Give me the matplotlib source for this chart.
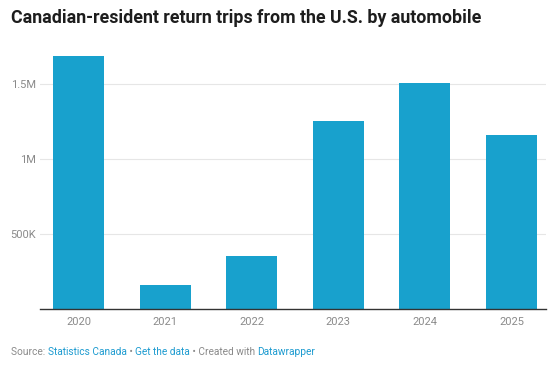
import matplotlib.pyplot as plt

years = ['2020', '2021', '2022', '2023', '2024', '2025']
trips = [1682000, 158000, 355000, 1255000, 1505000, 1160000]
yticks = [500000, 1000000, 1500000]
ytick_labels = ['500K', '1M', '1.5M']

BAR = '#18a1cd'
GRAY = '#8a8a8a'
LINK = '#1d9bd0'

plt.rcParams['font.family'] = ['Roboto', 'DejaVu Sans']

fig = plt.figure(figsize=(5.5, 3.72), dpi=100)
ax = fig.add_axes([0.0727, 0.169, 0.9203, 0.707])

x = range(len(years))
ax.bar(x, trips, width=0.59, color=BAR, zorder=2)
ax.set_xlim(-0.445, 5.4)
ax.set_ylim(0, 1750000)
ax.set_xticks(list(x))
ax.set_xticklabels(years)
ax.set_yticks(yticks)
ax.set_yticklabels(ytick_labels)
ax.tick_params(axis='both', length=0, labelsize=8, colors=GRAY)
ax.tick_params(axis='x', pad=6)
ax.tick_params(axis='y', pad=3)
ax.grid(axis='y', color='#e6e6e6', linewidth=0.8, zorder=0)
for s in ['top', 'right', 'left']:
    ax.spines[s].set_visible(False)
ax.spines['bottom'].set_color('#333333')
ax.spines['bottom'].set_linewidth(1)

fig.text(11 / 550, 1 - 18 / 372, 'Canadian-resident return trips from the U.S. by automobile',
         fontsize=12.8, fontweight='bold', color='#1d1d1d', va='center', ha='left')

# footer pieces in different colours
parts = [('Source: ', GRAY), ('Statistics Canada', LINK), (' \u2022 ', GRAY),
         ('Get the data', LINK), (' \u2022 Created with ', GRAY), ('Datawrapper', LINK)]
renderer = fig.canvas.get_renderer()
xpos = 11 / 550
for txt, col in parts:
    t = fig.text(xpos, 1 - 352 / 372, txt, fontsize=7.3, color=col, va='center', ha='left')
    bb = t.get_window_extent(renderer=renderer)
    xpos += bb.width / fig.bbox.width

fig.savefig('out.png', dpi=100)
